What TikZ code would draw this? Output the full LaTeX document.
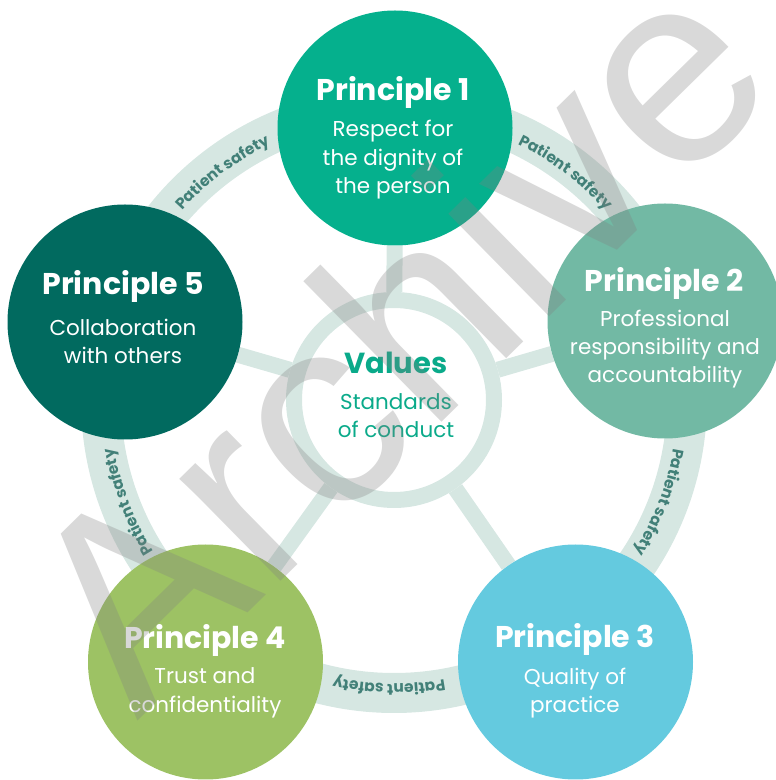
\documentclass[tikz,border=0pt]{standalone}
\usepackage{fontspec}
\newfontfamily\pop{Poppins}
\newfontfamily\wmfont{Liberation Sans}
\usetikzlibrary{decorations.text,backgrounds}
\definecolor{ringc}{RGB}{214,231,226}
\definecolor{cA}{RGB}{5,176,141}
\definecolor{cB}{RGB}{114,185,164}
\definecolor{cC}{RGB}{100,202,223}
\definecolor{cD}{RGB}{157,194,100}
\definecolor{cE}{RGB}{1,106,95}
\definecolor{psc}{RGB}{66,128,120}
\definecolor{valc}{RGB}{10,170,138}
\begin{document}
\begin{tikzpicture}[x=1pt,y=1pt,
  princ/.style={circle, fill=#1, minimum size=235pt, inner sep=0pt},
  ttl/.style={anchor=base, text=white, font=\pop\bfseries\fontsize{30}{30}\selectfont, inner sep=0pt},
  body/.style={anchor=base, text=white, font=\pop\fontsize{21.5}{21.5}\selectfont, inner sep=0pt},
  vttl/.style={anchor=base, text=valc, font=\pop\bfseries\fontsize{29}{29}\selectfont, inner sep=0pt},
  vbody/.style={anchor=base, text=valc, font=\pop\fontsize{21.5}{21.5}\selectfont, inner sep=0pt},
  spoke/.style={draw=ringc, line width=16pt},
  ps/.style={decorate, decoration={text along path, text align=center,
     text={|\pop\bfseries\fontsize{15.5}{15.5}\selectfont\color{psc}|Patient safety}}},
  wm/.style={font=\wmfont\fontsize{272}{272}\selectfont, text=black!50, text opacity=0.3, inner sep=0pt},
]
\useasboundingbox (0,0) rectangle (776,780);
\coordinate (C) at (394,380);
\node[circle, draw=ringc, line width=16pt, minimum size=200pt, inner sep=0pt] (V) at (C) {};
\node[princ=cA] (P1) at (395,652) {};
\node[princ=cB] (P2) at (665,459) {};
\node[princ=cC] (P3) at (575.5,118) {};
\node[princ=cD] (P4) at (205.5,118) {};
\node[princ=cE] (P5) at (125,458) {};
\begin{scope}[on background layer]
  \draw[ringc, line width=40pt] (C) circle (293);
  \foreach \a in {127,53,-21,-91,201}{
    \path[ps] (C) ++(\a+35:284) arc[start angle=\a+35, end angle=\a-35, radius=284];
  }
  \foreach \p in {P1,P2,P3,P4,P5}{
    \draw[spoke] (V) -- (\p);
  }
\end{scope}
% texts
\node[ttl] (t1) at (393,679) {Principle 1};
\node[body] (b1a) at (393,643) {Respect for};
\node[body] (b1b) at (393,614) {the dignity of};
\node[body] (b1c) at (393,586) {the person};
\node[ttl] (t2) at (664,488) {Principle 2};
\node[body] (b2a) at (665,453) {Professional};
\node[body] (b2b) at (665,425) {responsibility and};
\node[body] (b2c) at (665,397) {accountability};
\node[ttl] (t3) at (575,132) {Principle 3};
\node[body] (b3a) at (575,95) {Quality of};
\node[body] (b3b) at (575,67) {practice};
\node[ttl] (t4) at (205,131) {Principle 4};
\node[body] (b4a) at (205,96) {Trust and};
\node[body] (b4b) at (205,67) {confidentiality};
\node[ttl] (t5) at (123,485) {Principle 5};
\node[body] (b5a) at (123,444) {Collaboration};
\node[body] (b5b) at (123,416) {with others};
\node[vttl] (vt) at (396,406) {Values};
\node[vbody] (vs1) at (396,370) {Standards};
\node[vbody] (vs2) at (396,342) {of conduct};
% watermark
\node[wm, rotate=44.5, anchor=base west] (W) at (137.5,58) {Archive};
\end{tikzpicture}
\end{document}
